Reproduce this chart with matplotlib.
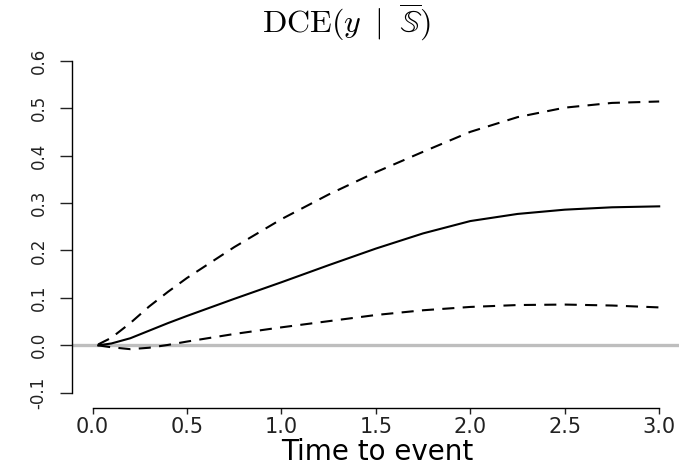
import matplotlib.pyplot as plt
import numpy as np

# DCE over time to event, with pointwise bands
time = [0.03, 0.1, 0.2, 0.3, 0.4, 0.5, 0.75, 1.0, 1.25, 1.5, 1.75, 2.0, 2.25, 2.5, 2.75, 3.0]
dce = [0.000, 0.004, 0.015, 0.031, 0.047, 0.062, 0.098, 0.133, 0.169, 0.204, 0.236, 0.262, 0.277, 0.286, 0.291, 0.293]
upper = [0.002, 0.016, 0.047, 0.082, 0.113, 0.142, 0.207, 0.266, 0.318, 0.365, 0.408, 0.450, 0.481, 0.501, 0.511, 0.514]
lower = [0.000, -0.004, -0.008, -0.005, 0.001, 0.008, 0.024, 0.038, 0.051, 0.064, 0.074, 0.081, 0.085, 0.086, 0.084, 0.080]

xticks = [0.0, 0.5, 1.0, 1.5, 2.0, 2.5, 3.0]
yticks = [-0.1, 0.0, 0.1, 0.2, 0.3, 0.4, 0.5, 0.6]

plt.rcParams['font.family'] = ['DejaVu Sans']
plt.rcParams['mathtext.fontset'] = 'cm'

W, H = 679, 468
fig = plt.figure(figsize=(W / 100, H / 100), dpi=100)
# axes box in pixels: left 72, right 679, top 47.4, bottom 408
ax = fig.add_axes([72 / W, (H - 408) / H, (679 - 72) / W, (408 - 47.4) / H])
ax.set_xlim(-20.5 / 188.9, (679 - 92.5) / 188.9)
ax.set_ylim(-0.132, 0.628)

ax.axhline(0, color='#bebebe', lw=2.4, zorder=1)
ax.plot(time, dce, color='black', lw=1.5, zorder=3)
ax.plot(time, upper, color='black', lw=1.5, dashes=(5.8, 4.0), zorder=3)
ax.plot(time, lower, color='black', lw=1.5, dashes=(5.8, 4.0), zorder=3)

for s in ['top', 'right']:
    ax.spines[s].set_visible(False)
ax.spines['left'].set_bounds(-0.1, 0.6)
ax.spines['bottom'].set_bounds(0, 3)
ax.spines['left'].set_linewidth(1.0)
ax.spines['bottom'].set_linewidth(1.0)

ax.set_xticks(xticks)
ax.set_xticklabels([f'{v:.1f}' for v in xticks])
ax.set_yticks(yticks)
ax.set_yticklabels([f'{v:.1f}' for v in yticks], rotation=90, va='center')
ax.tick_params(axis='both', width=1.0, colors='#222222')
ax.tick_params(axis='x', labelsize=15, length=4.3, pad=2)
ax.tick_params(axis='y', labelsize=12, length=8.6, pad=9)

fig.text(377 / W, 1 - 452 / H, 'Time to event', ha='center', va='center', fontsize=20)
fig.text(346 / W, 1 - 22 / H, r'$\mathrm{DCE}(y\;\;|\;\;\overline{\mathbb{S}})$',
         ha='center', va='center', fontsize=23)

fig.savefig('out.png', dpi=100)
